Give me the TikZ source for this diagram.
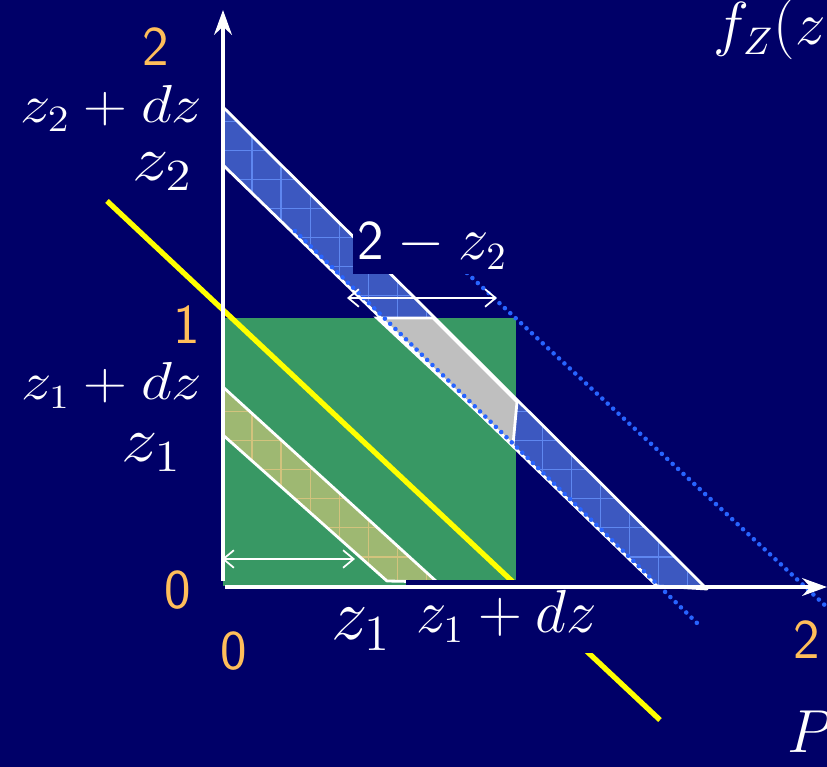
\documentclass[tikz,border=0pt]{standalone}
\usepackage{graphicx}
\usetikzlibrary{arrows.meta}
\definecolor{nachtblau}{RGB}{0,0,104}
\definecolor{wiese}{RGB}{56,152,100}
\definecolor{bandblau}{RGB}{60,88,192}
\definecolor{bandgitter}{RGB}{95,135,240}
\definecolor{oliv}{RGB}{158,184,114}
\definecolor{olivgitter}{RGB}{210,195,125}
\definecolor{punktblau}{RGB}{40,100,255}
\definecolor{ziffernorange}{RGB}{255,190,90}
\definecolor{gelb}{RGB}{255,255,0}

\def\punkt#1#2{ ({0.01*(#1)},{0.01*(#2)}) }
\def\flach#1{\scalebox{1}[0.88]{#1}}
\def\oberband{\punkt{0}{479} -- \punkt{484}{-3} -- \punkt{434}{0} -- \punkt{0}{421} -- cycle}
\def\unterband{\punkt{0}{199} -- \punkt{214}{4} -- \punkt{164}{5} -- \punkt{0}{151} -- cycle}

\begin{document}
\begin{tikzpicture}[
	rand/.style={white, line width=0.8pt, line join=round},
	gepunktet/.style={punktblau, line width=1.3pt, line cap=round, dash pattern=on 0pt off 2.1pt},
	achse/.style={white, line width=1.1pt, -{Stealth[length=7pt,width=5pt]}},
	massp/.style={white, line width=0.5pt, {Straight Barb[length=3pt,width=5pt]}-{Straight Barb[length=3pt,width=5pt]}},
	ziffer/.style={text=ziffernorange, font=\fontsize{16}{19}\sffamily, inner sep=0pt},
	marke/.style={text=white, font=\fontsize{16}{19}\selectfont, inner sep=0pt},
	gross/.style={font=\fontsize{20}{24}\selectfont}]
\useasboundingbox \punkt{-223}{-181} rectangle \punkt{604}{586};
\fill[nachtblau] \punkt{-223}{-181} rectangle \punkt{604}{586};
% Quadrat
\fill[wiese] \punkt{0}{0} rectangle \punkt{293}{268};
% Band z2
\begin{scope}
\clip \oberband;
\fill[bandblau] \oberband;
\draw[bandgitter, line width=0.3pt, step=0.29] \punkt{0}{-10} grid \punkt{500}{500};
\end{scope}
\filldraw[fill=black!25, draw=white, line width=0.8pt]
	\punkt{154}{268} -- \punkt{210}{268} -- \punkt{294}{184} -- \punkt{290}{141} -- cycle;
% Band z1
\begin{scope}
\clip \unterband;
\fill[oliv] \unterband;
\draw[olivgitter, line width=0.3pt, step=0.29] \punkt{0}{-10} grid \punkt{300}{300};
\end{scope}
\draw[rand] \punkt{0}{479} -- \punkt{484}{-3} -- \punkt{434}{0} -- \punkt{0}{421};
\draw[rand] \punkt{0}{199} -- \punkt{214}{4} -- \punkt{164}{5} -- \punkt{0}{151};
% Gerade x+y=1
\draw[gelb, line width=1.5pt] \punkt{-116}{385} -- \punkt{437}{-134};
% gepunktete Linien
\draw[gepunktet] \punkt{72}{355} -- \punkt{474}{-37};
\draw[gepunktet] \punkt{244}{313} -- \punkt{620}{-36};
% Abstaende
\path \punkt{124}{288} coordinate (a1);
\path \punkt{274}{288} coordinate (a2);
\path \punkt{-1}{27} coordinate (b1);
\path \punkt{132}{27} coordinate (b2);
\draw[massp] (a1) -- (a2);
\draw[massp, white!85] (b1) -- (b2);
% Beschriftung
\node[ziffer] (y2) at \punkt{-67}{539} {2};
\node[ziffer] (y1) at \punkt{-36}{261} {1};
\node[ziffer] (y0) at \punkt{-45}{-4} {0};
\node[ziffer] (x0) at \punkt{11}{-65} {0};
\node[ziffer] (x2) at \punkt{584}{-54} {2};
\node[marke, anchor=base east, font=\fontsize{17}{20}\selectfont] (z2dz) at \punkt{-20}{463} {\flach{$z_2+dz$}};
\node[marke, gross, anchor=base east] (z2) at \punkt{-30}{405} {\flach{$z_2$}};
\node[marke, anchor=base east] (z1dz) at \punkt{-20}{186} {\flach{$z_1+dz$}};
\node[marke, gross, anchor=base east] (z1) at \punkt{-41}{124} {\flach{$z_1$}};
\node[marke, gross, anchor=base east] (xz1) at \punkt{169}{-54} {$z_1$};
\node[marke, anchor=base east, fill=nachtblau, inner sep=3pt] (xz1dz) at \punkt{385}{-47} {$z_1+dz$};
\node[marke, anchor=base west, fill=nachtblau, inner sep=1.5pt] (abstand) at \punkt{129}{326} {$\mbox{\sffamily 2}-z_2$};
\node[marke, anchor=base west] (fz) at \punkt{490}{541} {$f_Z(z)$};
\node[marke, anchor=base west] (p) at \punkt{564}{-167} {$P$};
% Achsen
\path \punkt{0}{5} coordinate (ursprung);
\path \punkt{0}{576} coordinate (yspitze);
\path \punkt{2}{-1} coordinate (xanfang);
\path \punkt{604}{-1} coordinate (xspitze);
\draw[achse] (ursprung) -- (yspitze);
\draw[achse] (xanfang) -- (xspitze);
\end{tikzpicture}
\end{document}
